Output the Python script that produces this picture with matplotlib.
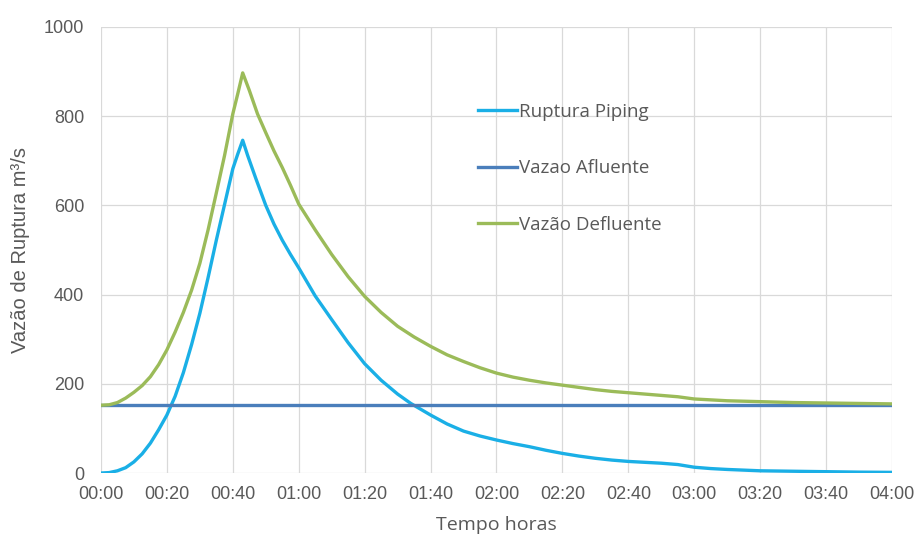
import matplotlib.pyplot as plt

# tempo em minutos desde 00:00
t_piping = [0, 2.5, 5, 7.5, 10, 12.5, 15, 17.5, 20, 22.5, 25, 27.5, 30, 32.5, 35, 37.5,
            40, 41.5, 43, 44.5, 47, 50, 52.5, 55, 57.5, 60, 65, 70, 75, 80, 85, 90, 94,
            100, 105, 110, 115, 120, 125, 130, 135, 140, 145, 150, 155, 160, 165, 170,
            175, 180, 185, 190, 200, 210, 220, 230, 240]
piping = [0, 1, 5, 12, 25, 43, 67, 97, 130, 172, 225, 288, 358, 438, 522, 602,
          682, 715, 746, 712, 660, 600, 558, 522, 490, 460, 397, 344, 292, 245, 208, 177, 156,
          130, 110, 94, 83, 74, 66, 59, 51, 44, 38, 33, 29, 26, 24, 22,
          19, 13, 10, 8, 5, 4, 3, 2, 1.5]

t_deflu = [0, 2.5, 5, 7.5, 10, 12.5, 15, 17.5, 20, 22.5, 25, 27.5, 30, 32.5, 35, 37.5,
           40, 41.5, 43, 45, 47.5, 50, 52.5, 55, 57.5, 60, 65, 70, 75, 80, 85, 90, 95,
           100, 105, 110, 115, 120, 125, 130, 135, 140, 145, 150, 155, 160, 165, 170,
           175, 180, 185, 190, 200, 210, 220, 230, 240]
defluente = [152, 153, 158, 168, 181, 196, 216, 243, 276, 316, 360, 410, 470, 545, 628, 712,
             805, 850, 897, 858, 805, 763, 722, 685, 645, 603, 545, 490, 440, 396, 360, 329, 305,
             284, 265, 250, 236, 224, 215, 208, 202, 197, 192, 187, 183, 180, 177, 174,
             171, 166, 164, 162, 160, 158, 157, 156, 155]

t_aflu = [0, 240]
afluente = [152, 152]

xticks = list(range(0, 241, 20))
xlabels = ['00:00', '00:20', '00:40', '01:00', '01:20', '01:40', '02:00',
           '02:20', '02:40', '03:00', '03:20', '03:40', '04:00']
yticks = [0, 200, 400, 600, 800, 1000]

fig = plt.figure(figsize=(9.22, 5.39), dpi=100)
ax = fig.add_axes([0.1095, 0.1224, 0.858, 0.8276])

lw = 2.4
ax.plot(t_piping, piping, color='#1aafe6', lw=lw, label='Ruptura Piping', zorder=3)
ax.plot(t_aflu, afluente, color='#4a7ebb', lw=lw, label='Vazao Afluente', zorder=3)
ax.plot(t_deflu, defluente, color='#9bbb59', lw=lw, label='Vazão Defluente', zorder=3)

ax.set_xlim(0, 240)
ax.set_ylim(0, 1000)
ax.set_xticks(xticks)
ax.set_xticklabels(xlabels)
ax.set_yticks(yticks)
ax.grid(True, color='#d9d9d9', lw=0.9)
ax.set_axisbelow(True)
for s in ax.spines.values():
    s.set_visible(False)
ax.tick_params(length=0, labelsize=13, colors='#595959')
ax.tick_params(axis='x', pad=9)
ax.tick_params(axis='y', pad=12)
for lab in ax.get_xticklabels() + ax.get_yticklabels():
    lab.set_family('Liberation Sans')

ax.set_ylabel('Vazão de Ruptura m³/s', fontsize=14.5, color='#595959',
              family='Liberation Sans', labelpad=10)
ax.set_xlabel('Tempo horas', fontsize=14, color='#595959', family='Open Sans', labelpad=10)

leg = ax.legend(loc='upper left', bbox_to_anchor=(0.4766, 0.83), frameon=False,
                borderpad=0, borderaxespad=0,
                handlelength=2.06, handletextpad=0.15, labelspacing=2.05,
                prop={'family': 'Open Sans', 'size': 13.5})
for txt in leg.get_texts():
    txt.set_color('#595959')

plt.savefig('out.png', dpi=100)
